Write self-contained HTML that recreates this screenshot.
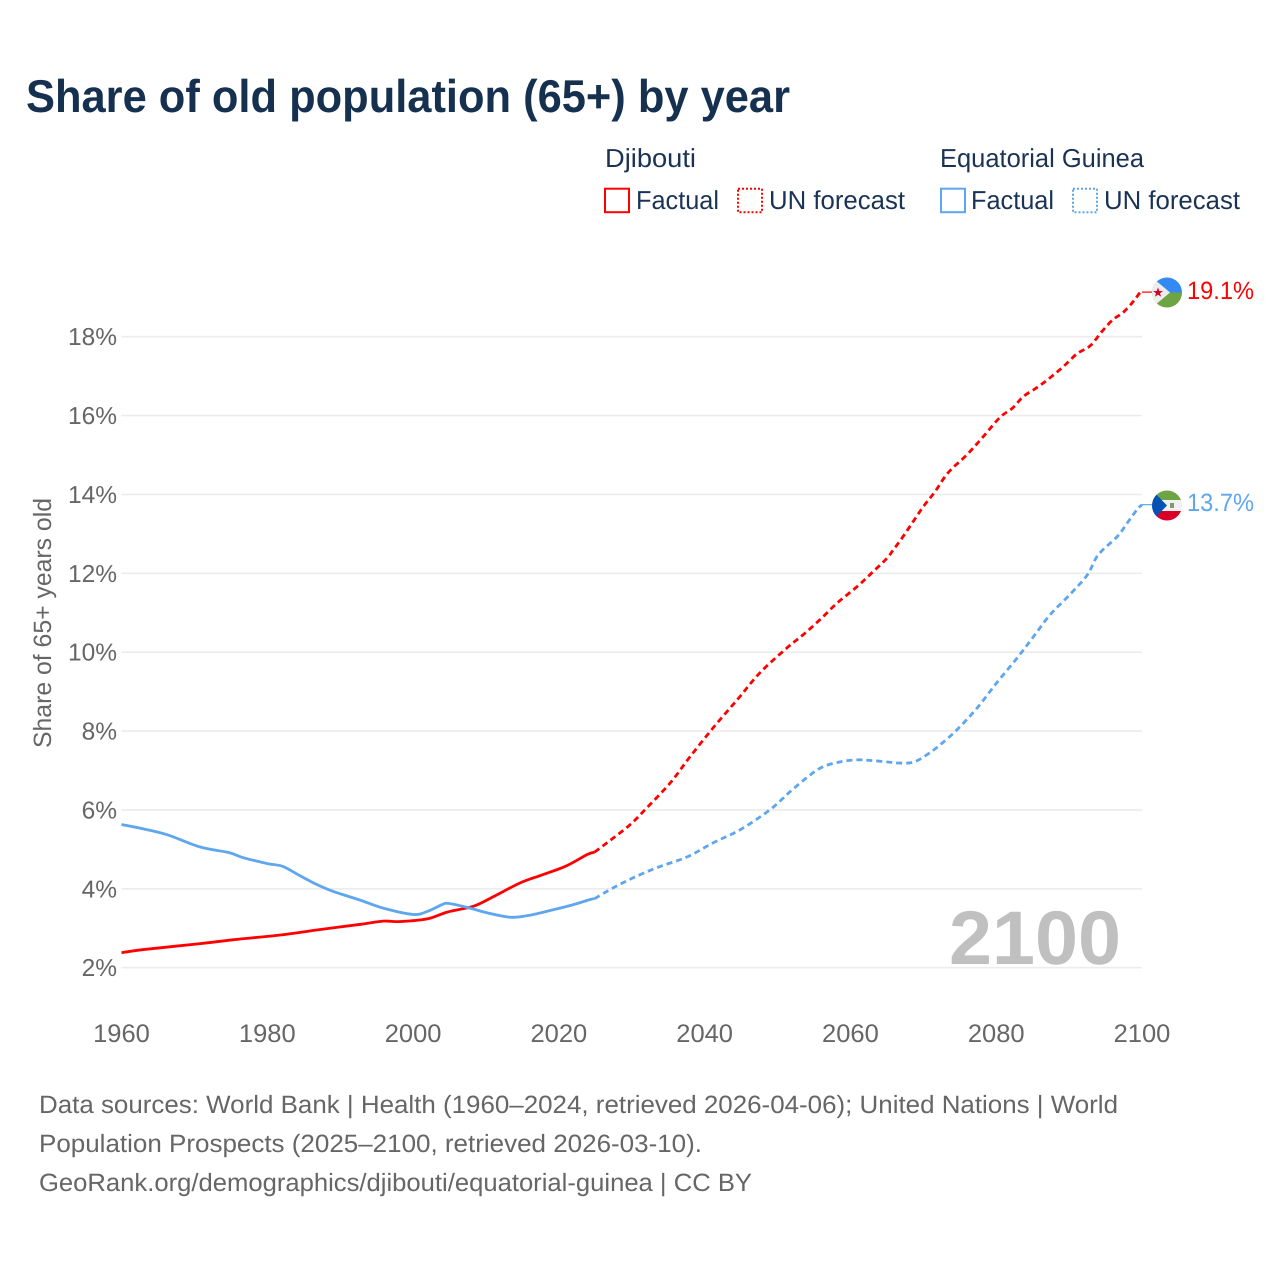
<!DOCTYPE html>
<html lang="en">
<head>
<meta charset="utf-8">
<title>Share of old population (65+) by year</title>
<style>
html,body{margin:0;padding:0;background:#fff;}
svg{display:block;font-family:"Liberation Sans",sans-serif;text-rendering:geometricPrecision;}
</style>
</head>
<body>
<svg id="chart" xmlns="http://www.w3.org/2000/svg" width="1280" height="1280" viewBox="0 0 1280 1280">
  <rect width="1280" height="1280" fill="#fff"/>
  <text x="26" y="112" font-size="46" font-weight="700" fill="#16304f" textLength="764" lengthAdjust="spacingAndGlyphs">Share of old population (65+) by year</text>

  <g font-size="26" fill="#1a3355">
    <text x="605" y="167" textLength="91" lengthAdjust="spacingAndGlyphs">Djibouti</text>
    <text x="940" y="167" textLength="204" lengthAdjust="spacingAndGlyphs">Equatorial Guinea</text>
    <rect x="605" y="188.7" width="24" height="23.5" fill="none" stroke="#ff0000" stroke-width="2"/>
    <text x="636" y="209" textLength="83" lengthAdjust="spacingAndGlyphs">Factual</text>
    <rect x="738" y="188.7" width="24" height="23.5" fill="none" stroke="#ff0000" stroke-width="2" stroke-dasharray="2 2"/>
    <text x="769" y="209" textLength="136" lengthAdjust="spacingAndGlyphs">UN forecast</text>
    <rect x="941" y="188.7" width="24" height="23.5" fill="none" stroke="#5ea6ee" stroke-width="2"/>
    <text x="971" y="209" textLength="83" lengthAdjust="spacingAndGlyphs">Factual</text>
    <rect x="1073" y="188.7" width="24" height="23.5" fill="none" stroke="#5ea6ee" stroke-width="2" stroke-dasharray="2 2"/>
    <text x="1104" y="209" textLength="136" lengthAdjust="spacingAndGlyphs">UN forecast</text>
  </g>

  <g id="grid"></g>
  <g id="yticks" font-size="24.5" fill="#666" text-anchor="end"></g>
  <g id="xticks" font-size="25.5" fill="#666" text-anchor="middle"></g>
  <text transform="translate(51,748) rotate(-90)" font-size="25" fill="#666" textLength="250" lengthAdjust="spacingAndGlyphs">Share of 65+ years old</text>
  <text x="949" y="964" font-size="76" font-weight="700" fill="#c0c0c0" textLength="172" lengthAdjust="spacingAndGlyphs">2100</text>

  <g id="series"></g>

  <g>
    <clipPath id="clip-dj"><circle cx="1167" cy="292.5" r="15"/></clipPath>
    <g clip-path="url(#clip-dj)">
      <rect x="1150" y="276" width="34" height="17" fill="#338af3"/>
      <rect x="1150" y="292.5" width="34" height="17" fill="#6da544"/>
      <path d="M1148 274 L1170 292.5 L1148 311 Z" fill="#eeeeee"/>
      <path d="M1158 287.5 L1159.3 291 L1163 291 L1160 293.2 L1161.1 296.8 L1158 294.6 L1154.9 296.8 L1156 293.2 L1153 291 L1156.7 291 Z" fill="#d80027"/>
    </g>
  </g>
  <g>
    <clipPath id="clip-eg"><circle cx="1167" cy="505.5" r="15"/></clipPath>
    <g clip-path="url(#clip-eg)">
      <rect x="1150" y="489" width="34" height="11.5" fill="#6da544"/>
      <rect x="1150" y="500" width="34" height="11" fill="#f0f0f0"/>
      <rect x="1150" y="511" width="34" height="11" fill="#d80027"/>
      <path d="M1148 486 L1167 505.5 L1148 525 Z" fill="#0052b4"/>
      <rect x="1170" y="503" width="4" height="5" fill="#7d9a72"/>
    </g>
  </g>
  <text x="1187" y="299" font-size="25" fill="#ff0000" textLength="67" lengthAdjust="spacingAndGlyphs">19.1%</text>
  <text x="1187" y="511" font-size="25" fill="#5ea6ee" textLength="67" lengthAdjust="spacingAndGlyphs">13.7%</text>

  <g font-size="25" fill="#666">
    <text x="39" y="1113" textLength="1079" lengthAdjust="spacingAndGlyphs">Data sources: World Bank | Health (1960–2024, retrieved 2026-04-06); United Nations | World</text>
    <text x="39" y="1152" textLength="663" lengthAdjust="spacingAndGlyphs">Population Prospects (2025–2100, retrieved 2026-03-10).</text>
    <text x="39" y="1191" textLength="713" lengthAdjust="spacingAndGlyphs">GeoRank.org/demographics/djibouti/equatorial-guinea | CC BY</text>
  </g>
</svg>
<script>
const yTickValues = [2, 4, 6, 8, 10, 12, 14, 16, 18];
const xTickYears = [1960, 1980, 2000, 2020, 2040, 2060, 2080, 2100];

const djiFactualYears = [1960, 1963, 1970.8, 1975.4, 1981.8, 1986.9, 1992.8, 1995.9, 1998.3, 2002, 2004.7, 2008.3, 2011, 2014.7, 2017.5, 2020.9, 2023.9, 2024.9];
const djiFactualValues = [2.38, 2.46, 2.61, 2.71, 2.83, 2.96, 3.10, 3.18, 3.17, 3.24, 3.41, 3.56, 3.80, 4.15, 4.34, 4.57, 4.87, 4.93];

const djiForecastYears = [2024.9, 2027.05, 2029.8, 2032.1, 2035.3, 2038, 2041.2, 2044.5, 2047.6, 2051.3, 2053.5, 2055.8, 2058.2, 2060.9, 2063.1, 2065, 2065.9, 2067.1, 2068.6, 2070, 2071.6, 2073.4, 2076, 2078.2, 2080.5, 2082.3, 2083.7, 2085.6, 2087.4, 2089.2, 2091.1, 2092.9, 2094.5, 2096, 2097.4, 2098.8, 2099.7, 2100];
const djiForecastValues = [4.93, 5.23, 5.63, 6.06, 6.69, 7.35, 8.09, 8.80, 9.48, 10.11, 10.44, 10.82, 11.25, 11.66, 12.04, 12.38, 12.60, 12.90, 13.31, 13.69, 14.07, 14.55, 15.01, 15.46, 15.95, 16.20, 16.48, 16.71, 16.96, 17.24, 17.57, 17.77, 18.13, 18.43, 18.61, 18.89, 19.11, 19.13];

const eqgFactualYears = [1960, 1963, 1966.3, 1970.8, 1974.7, 1976.7, 1980, 1982.1, 1984.5, 1986.9, 1989.1, 1992.8, 1995.9, 2000, 2002, 2004, 2004.8, 2007.4, 2010.2, 2013.3, 2015.7, 2018.8, 2022, 2024.3, 2024.9];
const eqgFactualValues = [5.63, 5.52, 5.37, 5.06, 4.92, 4.79, 4.64, 4.57, 4.33, 4.10, 3.93, 3.71, 3.51, 3.35, 3.43, 3.60, 3.63, 3.53, 3.39, 3.28, 3.32, 3.45, 3.60, 3.73, 3.75];

const eqgForecastYears = [2024.9, 2027.5, 2030.2, 2033.5, 2037.6, 2041.2, 2044.9, 2049, 2051.7, 2054.5, 2056.3, 2058.6, 2060.9, 2063.1, 2065.4, 2066.5, 2068.6, 2070.5, 2072.3, 2074.6, 2077.4, 2080.1, 2082.9, 2085.1, 2087.4, 2090.1, 2092.5, 2094, 2096.6, 2098, 2099.3, 2100];
const eqgForecastValues = [3.75, 4.03, 4.28, 4.54, 4.81, 5.17, 5.50, 6.01, 6.46, 6.89, 7.10, 7.22, 7.27, 7.25, 7.21, 7.19, 7.21, 7.40, 7.65, 8.03, 8.59, 9.23, 9.86, 10.39, 10.95, 11.46, 11.96, 12.47, 12.93, 13.28, 13.61, 13.74];

const NS = 'http://www.w3.org/2000/svg';
function xScale(year) { return 121.5 + (year - 1960) * (1142 - 121.5) / 140; }
function yScale(value) { return 967.7 - (value - 2) * 39.44; }

function linePath(years, values) {
  const p = years.map(function (yr, i) { return [xScale(yr), yScale(values[i])]; });
  let d = 'M' + p[0][0].toFixed(2) + ' ' + p[0][1].toFixed(2);
  for (let i = 0; i < p.length - 1; i++) {
    const a = p[Math.max(i - 1, 0)], b = p[i], c = p[i + 1], e = p[Math.min(i + 2, p.length - 1)];
    const c1x = b[0] + (c[0] - a[0]) / 6, c1y = b[1] + (c[1] - a[1]) / 6;
    const c2x = c[0] - (e[0] - b[0]) / 6, c2y = c[1] - (e[1] - b[1]) / 6;
    d += 'C' + c1x.toFixed(2) + ' ' + c1y.toFixed(2) + ' ' + c2x.toFixed(2) + ' ' + c2y.toFixed(2) + ' ' + c[0].toFixed(2) + ' ' + c[1].toFixed(2);
  }
  return d;
}

const gridGroup = document.getElementById('grid');
const yTickGroup = document.getElementById('yticks');
const xTickGroup = document.getElementById('xticks');
const seriesGroup = document.getElementById('series');

yTickValues.forEach(function (v) {
  const gl = document.createElementNS(NS, 'line');
  
  
  gl.setAttribute('x1', xScale(1960));
  gl.setAttribute('x2', xScale(2100));
  gl.setAttribute('y1', yScale(v));
  gl.setAttribute('y2', yScale(v));
  gl.setAttribute('stroke', '#ececec');
  gl.setAttribute('stroke-width', '1.6');
  gridGroup.appendChild(gl);

  const t = document.createElementNS(NS, 'text');
  
  
  t.setAttribute('x', 117);
  t.setAttribute('y', yScale(v) + 8.5);
  t.textContent = v + '%';
  yTickGroup.appendChild(t);
});

xTickYears.forEach(function (yr) {
  const t = document.createElementNS(NS, 'text');
  
  
  t.setAttribute('x', xScale(yr));
  t.setAttribute('y', 1042);
  t.textContent = yr;
  xTickGroup.appendChild(t);
});

function addLine(name, years, values, color, dashed) {
  const path = document.createElementNS(NS, 'path');
  
  
  path.setAttribute('d', linePath(years, values));
  path.setAttribute('fill', 'none');
  path.setAttribute('stroke', color);
  path.setAttribute('stroke-width', '2.8');
  path.setAttribute('stroke-linejoin', 'round');
  if (dashed) {
    path.setAttribute('stroke-dasharray', '6 4');
  }
  seriesGroup.appendChild(path);
}

function addConnector(name, lastValue, color) {
  const c = document.createElementNS(NS, 'line');
  
  
  c.setAttribute('x1', xScale(2100));
  c.setAttribute('x2', xScale(2100) + 10);
  c.setAttribute('y1', yScale(lastValue));
  c.setAttribute('y2', yScale(lastValue));
  c.setAttribute('stroke', color);
  c.setAttribute('stroke-width', '1.2');
  seriesGroup.appendChild(c);
}

addLine('djibouti-forecast-line', djiForecastYears, djiForecastValues, '#ff0000', true);
addLine('equatorial-guinea-forecast-line', eqgForecastYears, eqgForecastValues, '#5ea6ee', true);
addLine('djibouti-factual-line', djiFactualYears, djiFactualValues, '#ff0000', false);
addLine('equatorial-guinea-factual-line', eqgFactualYears, eqgFactualValues, '#5ea6ee', false);
addConnector('djibouti-flag-connector', djiForecastValues[djiForecastValues.length - 1], '#ff0000');
addConnector('equatorial-guinea-flag-connector', eqgForecastValues[eqgForecastValues.length - 1], '#5ea6ee');
</script>
</body>
</html>
